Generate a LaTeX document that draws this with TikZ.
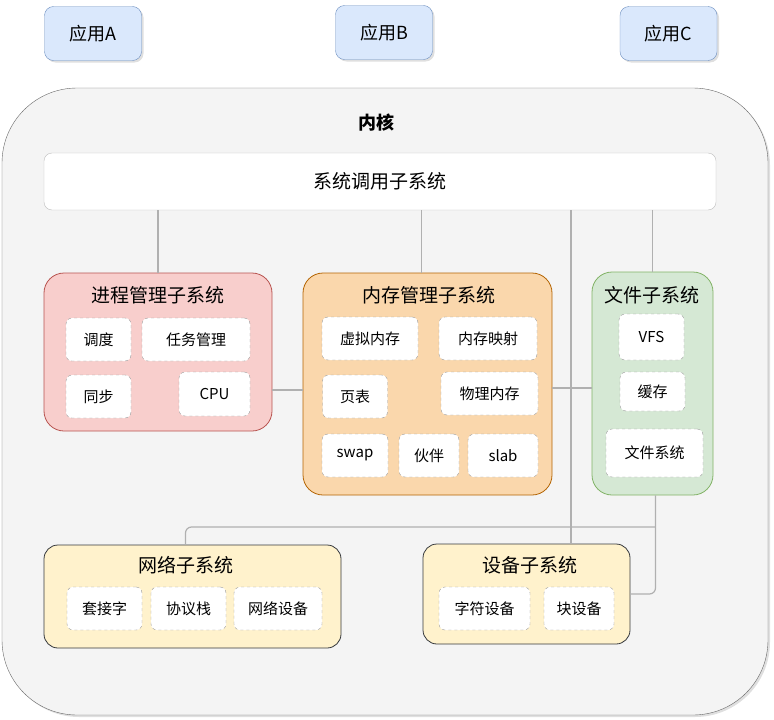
\documentclass[tikz,border=0pt]{standalone}
\usepackage{fontspec}
\setmainfont{Noto Sans CJK SC}
\usetikzlibrary{shadows}
\definecolor{appfill}{HTML}{DAE8FC}
\definecolor{appline}{HTML}{6C8EBF}
\definecolor{kfill}{HTML}{F4F4F4}
\definecolor{kline}{HTML}{666666}
\definecolor{sysline}{HTML}{BDBDBD}
\definecolor{procfill}{HTML}{F8CECC}
\definecolor{procline}{HTML}{B85450}
\definecolor{memfill}{HTML}{FAD7AC}
\definecolor{memline}{HTML}{B46504}
\definecolor{filefill}{HTML}{D5E8D4}
\definecolor{fileline}{HTML}{82B366}
\definecolor{netfill}{HTML}{FFF2CC}
\definecolor{netline}{HTML}{36393D}
\definecolor{dashgray}{HTML}{9A9A9A}
\definecolor{wiregray}{HTML}{B0B0B0}
\begin{document}
\begin{tikzpicture}[x=1pt,y=-1pt,
  app/.style={draw=appline,fill=appfill,rounded corners=9,minimum width=97,minimum height=54,
    drop shadow={opacity=.25,shadow xshift=2pt,shadow yshift=-2pt},font=\fontsize{18}{20}\selectfont},
  sub/.style={rounded corners=20,line width=.8pt},
  inbox/.style={draw=dashgray,dashed,fill=white,rounded corners=6,inner sep=0,font=\fontsize{15}{17}\selectfont},
  title/.style={font=\fontsize{19}{21}\selectfont},
  wire/.style={draw=wiregray,line width=1.2pt}]
\useasboundingbox (0,0) rectangle (774,720);
\node[app] (appa) at (93,33.5) {应用A};
\node[app] (appb) at (384,32.5) {应用B};
\node[app] (appc) at (668.5,33.5) {应用C};
\node[draw=kline,fill=kfill,rounded corners=75,minimum width=766,minimum height=627,
  drop shadow={opacity=.25,shadow xshift=2pt,shadow yshift=-2pt}] (kern) at (385,401.5) {};
\node[font=\fontsize{18}{20}\selectfont\bfseries] (kernt) at (376,123) {内核};
\node[draw=sysline,fill=white,rounded corners=8,minimum width=672,minimum height=57,
  font=\fontsize{19}{21}\selectfont] (sys) at (380,181.5) {系统调用子系统};
% subsystems
\node[sub,draw=procline,fill=procfill,minimum width=228,minimum height=158] (proc) at (158,352) {};
\node[title] (proct) at (158,295) {进程管理子系统};
\node[sub,draw=memline,fill=memfill,minimum width=249,minimum height=222] (mem) at (427.5,384) {};
\node[title] (memt) at (429,295) {内存管理子系统};
\node[sub,draw=fileline,fill=filefill,minimum width=121,minimum height=223] (file) at (652.5,383.5) {};
\node[title] (filet) at (652,295) {文件子系统};
\node[sub,draw=netline,fill=netfill,rounded corners=14,minimum width=297,minimum height=103] (net) at (192.5,596.5) {};
\node[title] (nett) at (186,565) {网络子系统};
\node[sub,draw=netline,fill=netfill,rounded corners=14,minimum width=207,minimum height=100] (dev) at (526.5,594) {};
\node[title] (devt) at (530,565) {设备子系统};
\foreach \n/\x/\y/\w/\h/\t in {
  tiaodu/98.5/339.5/65/43/调度, renwu/196/339.5/108/43/任务管理,
  tongbu/98.5/396.5/65/43/同步, cpu/214.5/394/71/44/CPU,
  xuni/370/338.5/96/43/虚拟内存, yingshe/488/338.5/98/43/内存映射,
  yebiao/355/396.5/65/43/页表, wuli/489.5/393.5/97/43/物理内存,
  swap/355/455.5/66/43/swap, huoban/429/455.5/60/43/伙伴, slab/503/455.5/70/43/slab,
  vfs/651.5/337/65/46/VFS, huancun/652.5/391.5/65/39/缓存, fs/654.5/453/97/48/文件系统,
  taojie/104.5/608.5/75/43/套接字, xieyi/188.5/608.5/75/43/协议栈, wangshe/278/608.5/88/43/网络设备,
  zifu/484.5/608.5/91/43/字符设备, kuai/579/608.5/70/43/块设备}
\node[inbox,minimum width=\w,minimum height=\h] (\n) at (\x,\y) {\t};
% connections
\draw[wire] (proc.north) -- (proc.north |- sys.south);
\draw[wire] ([xshift=-6]mem.north) -- ([xshift=-6]mem.north |- sys.south);
\draw[wire] (file.north) -- (file.north |- sys.south);
\draw[wire] (proc.east |- 0,390) -- (mem.west |- 0,390);
\draw[wire] (mem.east |- 0,388) -- (file.west |- 0,388);
\draw[wire] (sys.south -| 571,0) -- (dev.north -| 571,0);
\coordinate (fb) at ([xshift=3]file.south);
\draw[wire,rounded corners=6] (fb) |- (dev.east);
\coordinate (br) at (fb |- 0,527);
\draw[wire,rounded corners=6] (br) -| ([xshift=-7]net.north);
\end{tikzpicture}
\end{document}
